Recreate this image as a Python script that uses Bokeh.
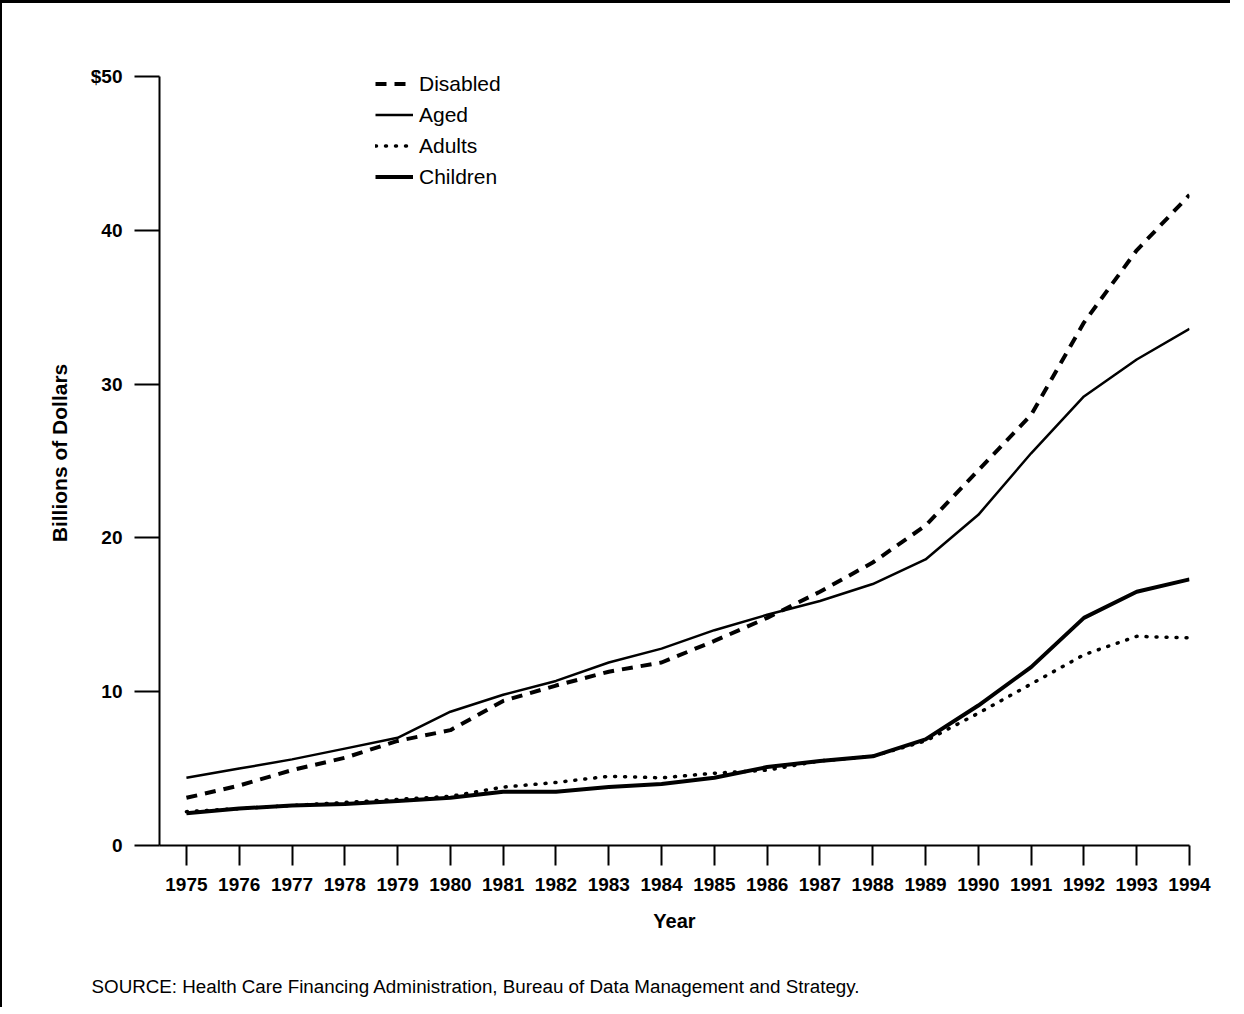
from bokeh.plotting import figure
from bokeh.layouts import column
from bokeh.models import FixedTicker, Legend, LegendItem, Title, Range1d
from bokeh.embed import file_html
from bokeh.resources import INLINE

years = list(range(1975, 1995))
disabled = [3.1, 3.9, 4.9, 5.7, 6.8, 7.5, 9.4, 10.4, 11.3, 11.9, 13.3, 14.8,
            16.5, 18.4, 20.8, 24.4, 28.0, 34.0, 38.7, 42.3]
aged = [4.4, 5.0, 5.6, 6.3, 7.0, 8.7, 9.8, 10.7, 11.9, 12.8, 14.0, 15.0,
        15.9, 17.0, 18.6, 21.5, 25.5, 29.2, 31.6, 33.6]
adults = [2.2, 2.4, 2.6, 2.8, 3.0, 3.2, 3.8, 4.1, 4.5, 4.4, 4.7, 4.9,
          5.5, 5.8, 6.8, 8.6, 10.5, 12.4, 13.6, 13.5]
children = [2.1, 2.4, 2.6, 2.7, 2.9, 3.1, 3.5, 3.5, 3.8, 4.0, 4.4, 5.1,
            5.5, 5.8, 6.9, 9.1, 11.6, 14.8, 16.5, 17.3]
y_ticks = [0, 10, 20, 30, 40, 50]
y_tick_labels = {50: "$50"}
series_names = ["Disabled", "Aged", "Adults", "Children"]
source_note = "SOURCE: Health Care Financing Administration, Bureau of Data Management and Strategy."

FONT = "Liberation Sans"

p = figure(width=1228, height=960, output_backend="svg", toolbar_location=None,
           x_range=Range1d(1974.49, 1994.0), y_range=Range1d(0, 51.04),
           min_border_left=157, min_border_right=41, min_border_top=57,
           min_border_bottom=118)
p.outline_line_color = None
p.grid.visible = False
p.background_fill_color = "white"
p.border_fill_color = "white"

r_dis = p.line(years, disabled, line_color="black", line_width=4, line_dash="11 8")
r_aged = p.line(years, aged, line_color="black", line_width=2.5)
r_ad = p.line(years, adults, line_color="black", line_width=3.5, line_dash="1 9",
              line_cap="round")
r_ch = p.line(years, children, line_color="black", line_width=4)

# axes
xa = p.xaxis[0]
xa.ticker = FixedTicker(ticks=years)
xa.minor_tick_line_color = None
xa.major_tick_in = 0
xa.major_tick_out = 20
xa.major_tick_line_width = 2
xa.axis_line_width = 2
xa.major_label_text_font = FONT
xa.major_label_text_font_style = "bold"
xa.major_label_text_font_size = "19px"
xa.major_label_text_color = "black"
xa.major_label_standoff = 12
xa.axis_label = "Year"
xa.axis_label_text_font = FONT
xa.axis_label_text_font_style = "bold"
xa.axis_label_text_font_size = "20px"
xa.axis_label_text_color = "black"
xa.axis_label_standoff = 16

ya = p.yaxis[0]
ya.ticker = FixedTicker(ticks=y_ticks)
ya.bounds = (0, 50)
ya.major_label_overrides = y_tick_labels
ya.minor_tick_line_color = None
ya.major_tick_in = 0
ya.major_tick_out = 25
ya.major_tick_line_width = 2
ya.axis_line_width = 2
ya.major_label_text_font = FONT
ya.major_label_text_font_style = "bold"
ya.major_label_text_font_size = "19px"
ya.major_label_text_color = "black"
ya.major_label_standoff = 12
ya.axis_label = "Billions of Dollars"
ya.axis_label_text_font = FONT
ya.axis_label_text_font_style = "bold"
ya.axis_label_text_font_size = "21px"
ya.axis_label_text_color = "black"
ya.axis_label_standoff = 17

legend = Legend(items=[LegendItem(label=n, renderers=[r]) for n, r in
                       zip(series_names, [r_dis, r_aged, r_ad, r_ch])],
                location=(216, 653), orientation="vertical",
                border_line_color=None, background_fill_alpha=0,
                padding=0, margin=0, spacing=0,
                label_height=31, glyph_height=31, glyph_width=38,
                label_standoff=6, label_text_font=FONT,
                label_text_font_size="21px", label_text_color="black")
p.add_layout(legend, "center")

# source note strip below the chart
p2 = figure(width=1228, height=44, output_backend="svg", toolbar_location=None,
            x_range=Range1d(0, 1), y_range=Range1d(0, 1),
            x_axis_type=None, y_axis_type=None,
            min_border_top=33, min_border_bottom=0)
p2.outline_line_color = None
p2.grid.visible = False
p2.background_fill_color = "white"
p2.border_fill_color = "white"
note = Title(text=source_note, align="left", offset=-68, standoff=0,
             vertical_align="bottom", text_font=FONT, text_font_size="18.8px",
             text_font_style="normal", text_color="black")
p2.add_layout(note, "above")

layout = column(p, p2, spacing=0)
layout.styles = {"border-top": "3px solid black", "border-left": "2px solid black"}

open("out.html", "w").write(file_html(layout, INLINE))
